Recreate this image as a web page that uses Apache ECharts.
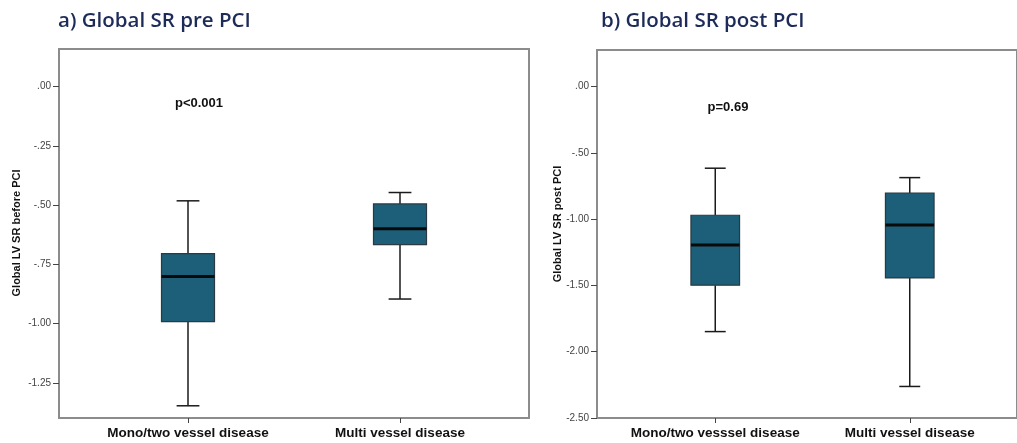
<!DOCTYPE html>
<html>
<head>
<meta charset="utf-8">
<script src="https://cdn.jsdelivr.net/npm/echarts@6/dist/echarts.min.js"></script>
<style>html,body{margin:0;padding:0;background:#fff}#c{width:1017px;height:443px}</style>
</head>
<body>
<div id="c"></div>
<script>
// ---- data ----
const categoriesPre = ['Mono/two vessel disease', 'Multi vessel disease'];
const categoriesPost = ['Mono/two vesssel disease', 'Multi vessel disease'];
const preMin = [-1.346, -0.896];
const preQ1 = [-0.991, -0.667];
const preMedian = [-0.801, -0.600];
const preQ3 = [-0.705, -0.495];
const preMax = [-0.482, -0.447];
const postMin = [-1.848, -2.262];
const postQ1 = [-1.498, -1.443];
const postMedian = [-1.194, -1.043];
const postQ3 = [-0.970, -0.802];
const postMax = [-0.615, -0.686];
const preTicks = [0, -0.25, -0.5, -0.75, -1, -1.25];
const postTicks = [0, -0.5, -1, -1.5, -2, -2.5];
const titlePre = 'a) Global SR pre PCI';
const titlePost = 'b) Global SR post PCI';
const yNamePre = 'Global LV SR before PCI';
const yNamePost = 'Global LV SR post PCI';
const pPre = 'p<0.001';
const pPost = 'p=0.69';

// ---- helpers ----
function boxRows(mins, q1s, meds, q3s, maxs) {
  return mins.map((m, i) => [i, mins[i], q1s[i], meds[i], q3s[i], maxs[i]]);
}
function fmt(v) {
  if (Math.abs(v) < 1e-9) return '.00';
  const s = Math.abs(v).toFixed(2).replace(/^0/, '');
  return (v < 0 ? '-' : '') + s;
}
const BOX_FILL = '#1d5e78';
const INK = '#1a1a1a';
function renderBox(params, api) {
  const x = api.value(0);
  const pMin = api.coord([x, api.value(1)]);
  const pQ1 = api.coord([x, api.value(2)]);
  const pMed = api.coord([x, api.value(3)]);
  const pQ3 = api.coord([x, api.value(4)]);
  const pMax = api.coord([x, api.value(5)]);
  const band = api.size([1, 0])[0];
  const bw = band * 0.25;
  const cw = bw * 0.43;
  const cx = pMed[0];
  const ls = { stroke: INK, lineWidth: 1.5 };
  return {
    type: 'group',
    children: [
      { type: 'line', shape: { x1: cx, y1: pMax[1], x2: cx, y2: pQ3[1] }, style: ls },
      { type: 'line', shape: { x1: cx, y1: pQ1[1], x2: cx, y2: pMin[1] }, style: ls },
      { type: 'line', shape: { x1: cx - cw / 2, y1: pMax[1], x2: cx + cw / 2, y2: pMax[1] }, style: ls },
      { type: 'line', shape: { x1: cx - cw / 2, y1: pMin[1], x2: cx + cw / 2, y2: pMin[1] }, style: ls },
      { type: 'rect', shape: { x: cx - bw / 2, y: pQ3[1], width: bw, height: pQ1[1] - pQ3[1] },
        style: { fill: BOX_FILL, stroke: '#2b3a42', lineWidth: 1.2 } },
      { type: 'line', shape: { x1: cx - bw / 2, y1: pMed[1], x2: cx + bw / 2, y2: pMed[1] },
        style: { stroke: '#0a0a0a', lineWidth: 3 } }
    ]
  };
}

// panel geometry
const panels = [
  { frameLeft: 59, frameTop: 49, frameW: 470, frameH: 369, boxLeft: 82, boxW: 424,
    min: -1.3975, max: 0.158, ticks: preTicks, cats: categoriesPre,
    data: boxRows(preMin, preQ1, preMedian, preQ3, preMax) },
  { frameLeft: 597, frameTop: 50, frameW: 430, frameH: 368, boxLeft: 618, boxW: 389,
    min: -2.5, max: 0.277, ticks: postTicks, cats: categoriesPost,
    data: boxRows(postMin, postQ1, postMedian, postQ3, postMax) }
];

const grid = [], xAxis = [], yAxis = [], series = [];
panels.forEach((p, k) => {
  const gFrame = grid.length;
  grid.push({ left: p.frameLeft, top: p.frameTop, width: p.frameW, height: p.frameH,
    show: true, borderColor: '#8c8c8c', borderWidth: 2, backgroundColor: 'transparent', containLabel: false });
  const gBox = grid.length;
  grid.push({ left: p.boxLeft, top: p.frameTop, width: p.boxW, height: p.frameH, containLabel: false });
  xAxis.push({ gridIndex: gFrame, type: 'value', min: 0, max: 1, show: false });
  yAxis.push({ gridIndex: gFrame, type: 'value', min: p.min, max: p.max, position: 'left',
    axisLine: { show: true, onZero: false, lineStyle: { color: '#8c8c8c', width: 2 } },
    axisTick: { show: true, inside: false, length: 6, customValues: p.ticks, lineStyle: { color: '#444', width: 1 } },
    axisLabel: { show: true, inside: false, customValues: p.ticks, formatter: fmt, fontSize: 10, color: '#444',
      fontFamily: 'Liberation Sans', margin: 8 },
    splitLine: { show: false } });
  xAxis.push({ gridIndex: gBox, type: 'category', data: p.cats, boundaryGap: true, position: 'bottom',
    axisLine: { show: false, onZero: false },
    axisTick: { show: true, inside: false, alignWithLabel: true, length: 5, lineStyle: { color: '#444', width: 1 } },
    axisLabel: { fontSize: 13.5, fontWeight: 'bold', color: '#111', fontFamily: 'Liberation Sans', margin: 8, interval: 0 } });
  yAxis.push({ gridIndex: gBox, type: 'value', min: p.min, max: p.max, show: false, splitLine: { show: false } });
  series.push({ type: 'custom', xAxisIndex: gBox, yAxisIndex: gBox, renderItem: renderBox,
    encode: { x: 0, y: [1, 2, 3, 4, 5] }, data: p.data, clip: false, silent: true });
});

const titleStyle = { fontFamily: 'Open Sans', fontSize: 20.5, fontWeight: 600, color: '#1d2b58' };
const option = {
  animation: false,
  backgroundColor: '#fff',
  title: [
    { text: titlePre, left: 58, top: 11, padding: 0, textStyle: titleStyle },
    { text: titlePost, left: 601, top: 11, padding: 0, textStyle: titleStyle }
  ],
  grid, xAxis, yAxis, series,
  graphic: [
    { type: 'text', x: 17, y: 233, rotation: Math.PI / 2,
      style: { text: yNamePre, font: 'bold 11px "Liberation Sans"', fill: '#111', textAlign: 'center', textVerticalAlign: 'middle' } },
    { type: 'text', x: 558, y: 224, rotation: Math.PI / 2,
      style: { text: yNamePost, font: 'bold 11px "Liberation Sans"', fill: '#111', textAlign: 'center', textVerticalAlign: 'middle' } },
    { type: 'text', x: 199, y: 103,
      style: { text: pPre, font: 'bold 13px "Liberation Sans"', fill: '#111', textAlign: 'center', textVerticalAlign: 'middle' } },
    { type: 'text', x: 728, y: 107,
      style: { text: pPost, font: 'bold 13px "Liberation Sans"', fill: '#111', textAlign: 'center', textVerticalAlign: 'middle' } }
  ]
};
echarts.init(document.getElementById('c'), null, { renderer: 'canvas' }).setOption(option);
</script>
</body>
</html>
